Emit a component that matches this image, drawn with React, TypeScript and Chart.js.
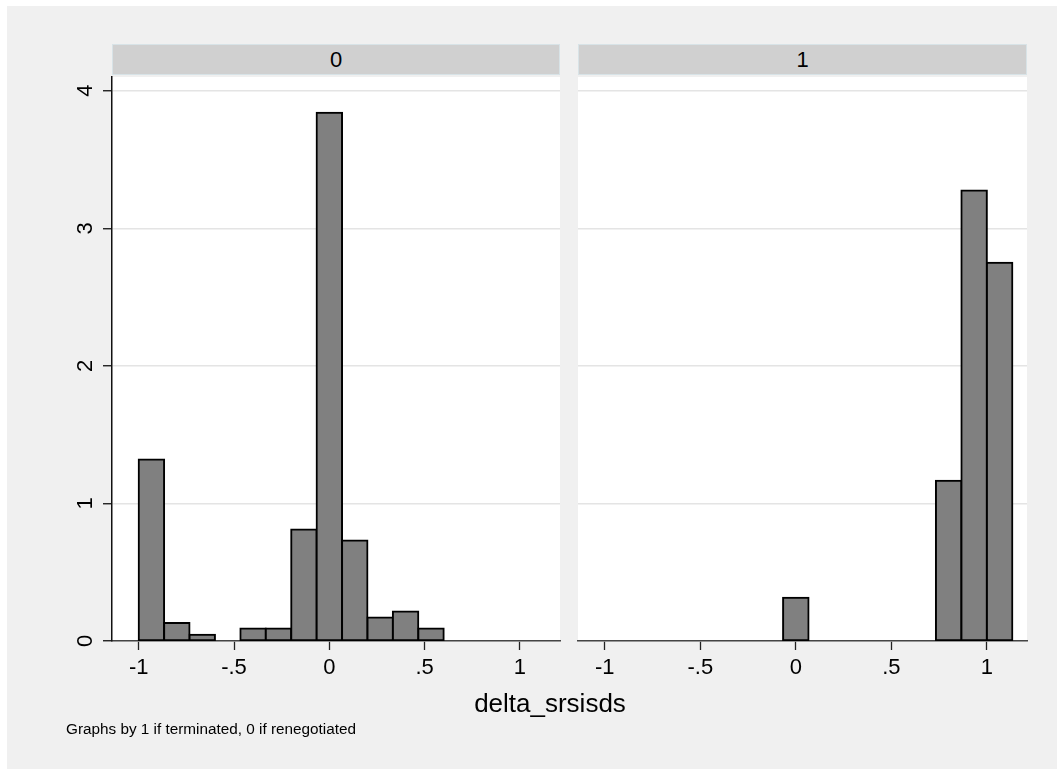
import React, { useEffect, useRef } from 'react';
import { Chart, registerables } from 'chart.js';

Chart.register(...registerables);

// Histogram bins (mid-points), shared by both panels
const binMids = [-0.9333, -0.8, -0.6667, -0.5333, -0.4, -0.2667, -0.1333, 0, 0.1333, 0.2667, 0.4, 0.5333, 0.6667, 0.8, 0.9333, 1.0667];
// Density per bin, panel "0" (renegotiated)
const density0 = [1.32, 0.13, 0.045, 0, 0.09, 0.09, 0.81, 3.84, 0.73, 0.17, 0.215, 0.09, 0, 0, 0, 0];
// Density per bin, panel "1" (terminated)
const density1 = [0, 0, 0, 0, 0, 0, 0, 0.315, 0, 0, 0, 0, 0, 1.165, 3.275, 2.75];

const panelLabels = ['0', '1'];
const xTicks = [-1, -0.5, 0, 0.5, 1];
const xTickLabels = ['-1', '-.5', '0', '.5', '1'];
const yTicks = [0, 1, 2, 3, 4];
const yTickLabels = ['0', '1', '2', '3', '4'];
const xTitle = 'delta_srsisds';
const noteText = 'Graphs by 1 if terminated, 0 if renegotiated';

const FONT = "'Liberation Sans', Arial, Helvetica, sans-serif";
const X_MIN = -1.14;
const X_MAX = 1.21;
const Y_MAX = 4.1;

const plotBg = {
  id: 'plotBg',
  beforeDraw(chart: any) {
    const { ctx, chartArea: a } = chart;
    ctx.save();
    ctx.fillStyle = '#ffffff';
    ctx.fillRect(a.left, a.top, a.right - a.left, a.bottom - a.top);
    ctx.restore();
  },
};

function makeChart(canvas: HTMLCanvasElement, values: number[], showY: boolean, padRight: number, yWidth: number) {
  const data = binMids
    .map((m, i) => ({ x: m, y: values[i] }))
    .filter((d) => d.y > 0);
  return new Chart(canvas, {
    type: 'bar',
    data: {
      datasets: [
        {
          data: data as any,
          backgroundColor: '#808080',
          borderColor: '#000000',
          borderWidth: 2,
          borderSkipped: false,
          inflateAmount: 1,
          barPercentage: 1,
          categoryPercentage: 1,
          grouped: false,
        } as any,
      ],
    },
    options: {
      responsive: false,
      animation: false,
      events: [],
      layout: { padding: { left: 0, top: 77, right: padRight, bottom: 88 } },
      plugins: {
        legend: { display: false },
        tooltip: { enabled: false },
        title: { display: false },
      },
      scales: {
        x: {
          type: 'linear',
          min: X_MIN,
          max: X_MAX,
          offset: false,
          afterBuildTicks: (scale: any) => {
            scale.ticks = xTicks.map((v) => ({ value: v }));
          },
          afterFit: (scale: any) => {
            scale.height = 40;
          },
          grid: {
            offset: false,
            drawOnChartArea: false,
            drawTicks: true,
            tickLength: 9,
            tickColor: '#222222',
            tickWidth: 1.3,
          },
          border: { display: true, color: '#444444', width: 1.5 },
          ticks: {
            autoSkip: false,
            maxRotation: 0,
            minRotation: 0,
            padding: 5,
            color: '#000000',
            font: { family: FONT, size: 22 },
            callback: (_v: any, i: number) => xTickLabels[i],
          },
        } as any,
        y: {
          type: 'linear',
          min: 0,
          max: Y_MAX,
          afterBuildTicks: (scale: any) => {
            scale.ticks = yTicks.map((v) => ({ value: v }));
          },
          afterFit: (scale: any) => {
            scale.width = yWidth;
          },
          grid: {
            color: '#e4e4e4',
            lineWidth: 1.5,
            drawTicks: showY,
            tickLength: 9,
            tickColor: '#111111',
            tickWidth: 1.3,
          },
          border: { display: showY, color: '#111111', width: 1.5 },
          ticks: {
            display: showY,
            autoSkip: false,
            minRotation: 90,
            maxRotation: 90,
            crossAlign: 'center',
            padding: 11,
            color: '#000000',
            font: { family: FONT, size: 22 },
            callback: (_v: any, i: number) => yTickLabels[i],
          },
        } as any,
      },
    },
    plugins: [plotBg],
  });
}

export default function App() {
  const leftRef = useRef<HTMLCanvasElement>(null);
  const rightRef = useRef<HTMLCanvasElement>(null);

  useEffect(() => {
    const c1 = makeChart(leftRef.current!, density0, true, 10, 112);
    const c2 = makeChart(rightRef.current!, density1, false, 30, 8);
    return () => {
      c1.destroy();
      c2.destroy();
    };
  }, []);

  const stripStyle = (left: number, width: number): React.CSSProperties => ({
    position: 'absolute',
    left,
    top: 44,
    width,
    height: 31,
    boxSizing: 'border-box',
    background: '#d0d0d0',
    border: '1px solid #d8e3e7',
    display: 'flex',
    alignItems: 'center',
    justifyContent: 'center',
    fontFamily: FONT,
    fontSize: 22,
    color: '#000',
  });

  return (
    <div style={{ position: 'absolute', left: 0, top: 0, width: 1057, height: 769, overflow: 'hidden', background: '#ffffff' }}>
      <div style={{ position: 'absolute', left: 7, top: 6, width: 1050, height: 763, background: '#f0f0f0' }} />
      <div style={stripStyle(112, 448)}>{panelLabels[0]}</div>
      <div style={stripStyle(578, 449)}>{panelLabels[1]}</div>
      <canvas ref={leftRef} width={570} height={769} style={{ position: 'absolute', left: 0, top: 0 }} />
      <canvas ref={rightRef} width={487} height={769} style={{ position: 'absolute', left: 570, top: 0 }} />
      <div
        style={{
          position: 'absolute',
          left: 350,
          width: 400,
          top: 690,
          textAlign: 'center',
          fontFamily: FONT,
          fontSize: 26,
          lineHeight: 1,
          color: '#000',
        }}
      >
        {xTitle}
      </div>
      <div
        style={{
          position: 'absolute',
          left: 66,
          top: 721,
          fontFamily: FONT,
          fontSize: 15.3,
          lineHeight: 1,
          color: '#000',
          whiteSpace: 'nowrap',
        }}
      >
        {noteText}
      </div>
    </div>
  );
}
